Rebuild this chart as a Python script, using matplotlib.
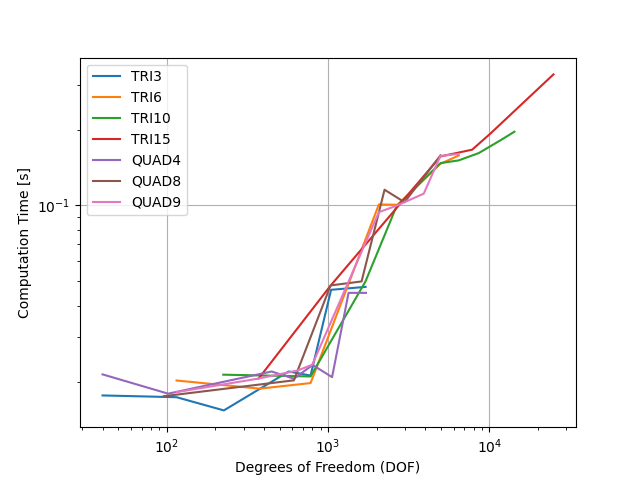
import matplotlib
matplotlib.use("Agg")
import matplotlib.pyplot as plt

# DOF / time pairs per element type
tri3_dof = [40, 115, 226, 570, 779, 1044, 1708]
tri3_time = [0.01762, 0.01734, 0.01537, 0.02193, 0.02113, 0.04625, 0.04751]

tri6_dof = [115, 376, 779, 2065, 2692, 4973, 6457]
tri6_time = [0.0202, 0.01875, 0.01973, 0.1009, 0.1006, 0.1463, 0.1578]

tri10_dof = [224, 779, 1706, 2655, 4973, 6457, 8590, 11700, 14290]
tri10_time = [0.0213, 0.02096, 0.04993, 0.0991, 0.1472, 0.1509, 0.1613, 0.1812, 0.1961]

tri15_dof = [371, 1035, 4973, 7820, 10140, 24950]
tri15_time = [0.02056, 0.048, 0.1564, 0.1664, 0.1927, 0.331]

quad4_dof = [40, 102, 447, 614, 802, 1059, 1340, 1718]
quad4_time = [0.02136, 0.01791, 0.02193, 0.02053, 0.02328, 0.02083, 0.04498, 0.04498]

quad8_dof = [96, 614, 1036, 1613, 2239, 2977, 4973]
quad8_time = [0.0175, 0.02023, 0.04814, 0.04993, 0.1154, 0.103, 0.1579]

quad9_dof = [115, 366, 647, 798, 2065, 2682, 3917, 4973, 6457]
quad9_time = [0.01816, 0.02053, 0.02213, 0.02333, 0.094, 0.1, 0.1113, 0.1572, 0.1601]

series = [
    ("TRI3", tri3_dof, tri3_time),
    ("TRI6", tri6_dof, tri6_time),
    ("TRI10", tri10_dof, tri10_time),
    ("TRI15", tri15_dof, tri15_time),
    ("QUAD4", quad4_dof, quad4_time),
    ("QUAD8", quad8_dof, quad8_time),
    ("QUAD9", quad9_dof, quad9_time),
]

fig, ax = plt.subplots(figsize=(6.4, 4.8), dpi=100)

for name, dof, t in series:
    ax.plot(dof, t, label=name)

ax.set_xscale("log")
ax.set_yscale("log")
ax.set_xlabel("Degrees of Freedom (DOF)")
ax.set_ylabel("Computation Time [s]")
ax.grid(True)
ax.legend(loc="upper left")

fig.savefig("out.png")
